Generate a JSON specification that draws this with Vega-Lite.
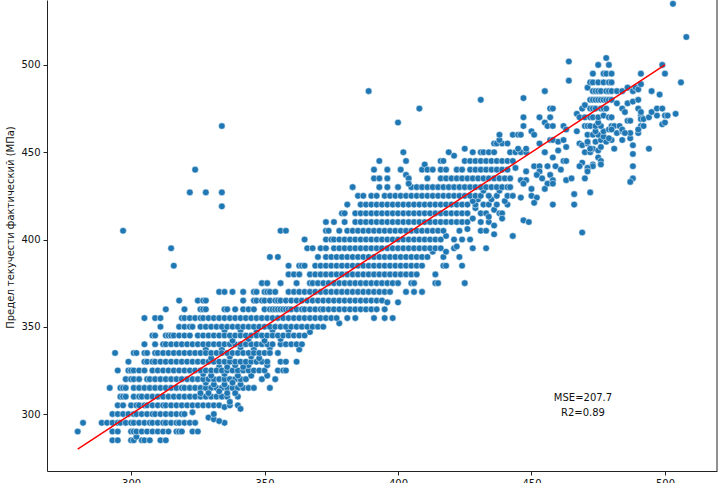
{"$schema":"https://vega.github.io/schema/vega-lite/v6.json","width":670,"height":471,"autosize":{"type":"none"},"padding":{"left":47,"top":0,"right":7,"bottom":12},"background":"white","config":{"font":"DejaVu Sans","view":{"stroke":null}},
"encoding":{"x":{"field":"x","type":"quantitative","scale":{"domain":[268.5,519.5],"nice":false,"zero":false},"axis":{"values":[300,350,400,450,500],"grid":false,"title":null,"domainColor":"#222","tickColor":"#222","labelColor":"#111","labelFontSize":10,"tickSize":4,"labelPadding":3,"labelFlush":false}},"y":{"field":"y","type":"quantitative","scale":{"domain":[267.4,537.2],"nice":false,"zero":false},"axis":{"values":[300,350,400,450,500],"grid":false,"title":"Предел текучести фактический (МПа)","titleFontSize":10,"titleFontWeight":"normal","titleColor":"#111","titleX":-32,"titleY":227,"domainColor":"#222","tickColor":"#222","labelColor":"#111","labelFontSize":10,"tickSize":4,"labelPadding":3}}},
"layer":[
{"data":{"values":[{"x":519.5}]},"mark":{"type":"rule","color":"#222","strokeWidth":1},"encoding":{"y":null}},
{"data":{"values":[
{"x":293,"y":285},{"x":295,"y":285},{"x":300,"y":285},{"x":301,"y":285},{"x":304,"y":285},{"x":305,"y":285},{"x":307,"y":285},{"x":311,"y":285},{"x":313,"y":285},{"x":302,"y":287},
{"x":280,"y":290},{"x":293,"y":290},{"x":295,"y":290},{"x":300,"y":290},{"x":301,"y":290},{"x":302,"y":290},{"x":304,"y":290},{"x":306,"y":290},{"x":308,"y":290},{"x":310,"y":290},{"x":312,"y":290},{"x":314,"y":290},{"x":317,"y":290},{"x":318,"y":290},{"x":319,"y":290},{"x":323,"y":290},{"x":325,"y":290},
{"x":282,"y":295},{"x":289,"y":295},{"x":291,"y":295},{"x":293,"y":295},{"x":295,"y":295},{"x":296,"y":295},{"x":298,"y":295},{"x":300,"y":295},{"x":301,"y":295},{"x":303,"y":295},{"x":305,"y":295},{"x":307,"y":295},{"x":308,"y":295},{"x":310,"y":295},{"x":312,"y":295},{"x":313,"y":295},{"x":315,"y":295},{"x":317,"y":295},{"x":318,"y":295},{"x":320,"y":295},{"x":322,"y":295},{"x":324,"y":295},{"x":335,"y":295},
{"x":293,"y":300},{"x":295,"y":300},{"x":297,"y":300},{"x":299,"y":300},{"x":301,"y":300},{"x":302,"y":300},{"x":304,"y":300},{"x":306,"y":300},{"x":308,"y":300},{"x":309,"y":300},{"x":311,"y":300},{"x":313,"y":300},{"x":315,"y":300},{"x":317,"y":300},{"x":319,"y":300},{"x":320,"y":300},{"x":323,"y":301},{"x":329,"y":298},{"x":331,"y":297},{"x":331,"y":300},{"x":333,"y":296},
{"x":295,"y":305},{"x":297,"y":305},{"x":300,"y":305},{"x":302,"y":305},{"x":303,"y":305},{"x":305,"y":305},{"x":306,"y":305},{"x":308,"y":305},{"x":310,"y":305},{"x":312,"y":305},{"x":313,"y":305},{"x":315,"y":305},{"x":317,"y":305},{"x":319,"y":305},{"x":321,"y":305},{"x":323,"y":305},{"x":325,"y":305},{"x":327,"y":305},{"x":329,"y":305},{"x":331,"y":305},{"x":333,"y":305},{"x":335,"y":304},{"x":337,"y":305},{"x":340,"y":305},{"x":341,"y":303},
{"x":296,"y":310},{"x":297,"y":310},{"x":298,"y":310},{"x":301,"y":310},{"x":303,"y":310},{"x":304,"y":310},{"x":306,"y":310},{"x":308,"y":310},{"x":310,"y":310},{"x":312,"y":310},{"x":314,"y":310},{"x":316,"y":310},{"x":318,"y":310},{"x":320,"y":310},{"x":322,"y":310},{"x":324,"y":310},{"x":326,"y":310},{"x":328,"y":310},{"x":330,"y":310},{"x":332,"y":310},{"x":334,"y":310},{"x":336,"y":310},{"x":337,"y":307},{"x":340,"y":310},
{"x":292,"y":315},{"x":296,"y":315},{"x":297,"y":315},{"x":298,"y":315},{"x":301,"y":315},{"x":303,"y":315},{"x":305,"y":315},{"x":307,"y":315},{"x":309,"y":315},{"x":311,"y":315},{"x":313,"y":315},{"x":315,"y":315},{"x":317,"y":315},{"x":319,"y":315},{"x":320,"y":315},{"x":322,"y":315},{"x":324,"y":315},{"x":326,"y":315},{"x":328,"y":315},{"x":330,"y":315},{"x":332,"y":315},{"x":334,"y":315},{"x":336,"y":315},{"x":338,"y":315},{"x":340,"y":315},{"x":342,"y":315},{"x":344,"y":315},{"x":346,"y":315},{"x":352,"y":315},{"x":329,"y":312},{"x":333,"y":313},{"x":326,"y":312},{"x":336,"y":312},{"x":339,"y":312},{"x":331,"y":317},{"x":335,"y":317},{"x":328,"y":318},{"x":341,"y":317},
{"x":298,"y":320},{"x":300,"y":320},{"x":301,"y":320},{"x":303,"y":320},{"x":306,"y":320},{"x":307,"y":320},{"x":309,"y":320},{"x":311,"y":320},{"x":313,"y":320},{"x":315,"y":320},{"x":317,"y":320},{"x":319,"y":320},{"x":321,"y":320},{"x":323,"y":320},{"x":325,"y":320},{"x":327,"y":320},{"x":329,"y":320},{"x":331,"y":320},{"x":333,"y":320},{"x":335,"y":320},{"x":337,"y":320},{"x":339,"y":320},{"x":341,"y":320},{"x":343,"y":320},{"x":349,"y":320},{"x":354,"y":320},{"x":351,"y":322},{"x":335,"y":323},{"x":338,"y":318},{"x":330,"y":322},{"x":340,"y":322},{"x":345,"y":322},{"x":327,"y":323},{"x":333,"y":327},
{"x":295,"y":325},{"x":299,"y":325},{"x":300,"y":325},{"x":301,"y":325},{"x":303,"y":325},{"x":305,"y":325},{"x":308,"y":325},{"x":310,"y":325},{"x":312,"y":325},{"x":314,"y":325},{"x":316,"y":325},{"x":318,"y":325},{"x":320,"y":325},{"x":322,"y":325},{"x":324,"y":325},{"x":326,"y":325},{"x":328,"y":325},{"x":330,"y":325},{"x":332,"y":325},{"x":334,"y":325},{"x":336,"y":325},{"x":338,"y":325},{"x":340,"y":325},{"x":342,"y":325},{"x":344,"y":325},{"x":346,"y":325},{"x":348,"y":325},{"x":350,"y":325},{"x":355,"y":325},{"x":357,"y":325},{"x":358,"y":325},{"x":344,"y":328},{"x":351,"y":328},{"x":339,"y":328},{"x":336,"y":327},{"x":342,"y":327},
{"x":299,"y":330},{"x":305,"y":330},{"x":306,"y":330},{"x":308,"y":330},{"x":309,"y":330},{"x":311,"y":330},{"x":313,"y":330},{"x":315,"y":330},{"x":317,"y":330},{"x":319,"y":330},{"x":321,"y":330},{"x":323,"y":330},{"x":325,"y":330},{"x":327,"y":330},{"x":329,"y":330},{"x":331,"y":330},{"x":333,"y":330},{"x":335,"y":330},{"x":337,"y":330},{"x":339,"y":330},{"x":341,"y":330},{"x":343,"y":330},{"x":345,"y":330},{"x":347,"y":330},{"x":349,"y":330},{"x":351,"y":330},{"x":356,"y":330},{"x":358,"y":330},{"x":362,"y":330},{"x":345,"y":333},{"x":330,"y":332},{"x":337,"y":333},{"x":348,"y":332},{"x":328,"y":337},{"x":334,"y":337},{"x":341,"y":338},{"x":346,"y":337},{"x":352,"y":338},
{"x":294,"y":335},{"x":301,"y":335},{"x":302,"y":335},{"x":305,"y":335},{"x":306,"y":335},{"x":309,"y":335},{"x":310,"y":335},{"x":312,"y":335},{"x":314,"y":335},{"x":316,"y":335},{"x":318,"y":335},{"x":320,"y":335},{"x":322,"y":335},{"x":324,"y":335},{"x":326,"y":335},{"x":328,"y":335},{"x":330,"y":335},{"x":332,"y":335},{"x":334,"y":335},{"x":336,"y":335},{"x":338,"y":335},{"x":340,"y":335},{"x":342,"y":335},{"x":344,"y":335},{"x":346,"y":335},{"x":348,"y":335},{"x":350,"y":335},{"x":352,"y":335},{"x":355,"y":335},{"x":363,"y":337},
{"x":305,"y":340},{"x":309,"y":340},{"x":312,"y":340},{"x":313,"y":340},{"x":315,"y":340},{"x":317,"y":340},{"x":319,"y":340},{"x":321,"y":340},{"x":323,"y":340},{"x":325,"y":340},{"x":327,"y":340},{"x":329,"y":340},{"x":331,"y":340},{"x":333,"y":340},{"x":335,"y":340},{"x":337,"y":340},{"x":339,"y":340},{"x":341,"y":340},{"x":343,"y":340},{"x":345,"y":340},{"x":347,"y":340},{"x":349,"y":340},{"x":351,"y":340},{"x":353,"y":340},{"x":356,"y":340},{"x":358,"y":340},{"x":360,"y":340},{"x":362,"y":340},{"x":364,"y":340},{"x":338,"y":342},{"x":344,"y":343},{"x":350,"y":342},{"x":356,"y":343},{"x":335,"y":348},{"x":341,"y":348},{"x":347,"y":347},{"x":353,"y":348},{"x":359,"y":348},
{"x":308,"y":345},{"x":309,"y":345},{"x":313,"y":345},{"x":314,"y":345},{"x":315,"y":345},{"x":316,"y":345},{"x":318,"y":345},{"x":320,"y":345},{"x":322,"y":345},{"x":325,"y":345},{"x":327,"y":345},{"x":329,"y":345},{"x":331,"y":345},{"x":333,"y":345},{"x":335,"y":345},{"x":337,"y":345},{"x":339,"y":345},{"x":341,"y":345},{"x":343,"y":345},{"x":345,"y":345},{"x":347,"y":345},{"x":349,"y":345},{"x":351,"y":345},{"x":353,"y":345},{"x":355,"y":345},{"x":357,"y":345},{"x":359,"y":345},{"x":361,"y":345},{"x":363,"y":345},{"x":365,"y":345},{"x":367,"y":347},
{"x":311,"y":350},{"x":318,"y":350},{"x":320,"y":350},{"x":322,"y":350},{"x":323,"y":350},{"x":326,"y":350},{"x":328,"y":350},{"x":330,"y":350},{"x":332,"y":350},{"x":334,"y":350},{"x":336,"y":350},{"x":338,"y":350},{"x":340,"y":350},{"x":342,"y":350},{"x":344,"y":350},{"x":346,"y":350},{"x":348,"y":350},{"x":350,"y":350},{"x":352,"y":350},{"x":354,"y":350},{"x":356,"y":350},{"x":358,"y":350},{"x":360,"y":350},{"x":362,"y":350},{"x":364,"y":350},{"x":366,"y":350},{"x":368,"y":350},{"x":370,"y":350},{"x":372,"y":350},{"x":378,"y":352},{"x":391,"y":355},{"x":395,"y":355},{"x":398,"y":355},
{"x":305,"y":355},{"x":309,"y":355},{"x":311,"y":355},{"x":319,"y":355},{"x":320,"y":355},{"x":322,"y":355},{"x":324,"y":355},{"x":326,"y":355},{"x":327,"y":355},{"x":329,"y":355},{"x":331,"y":355},{"x":333,"y":355},{"x":335,"y":355},{"x":337,"y":355},{"x":339,"y":355},{"x":341,"y":355},{"x":343,"y":355},{"x":345,"y":355},{"x":347,"y":355},{"x":349,"y":355},{"x":351,"y":355},{"x":353,"y":355},{"x":355,"y":355},{"x":357,"y":355},{"x":359,"y":355},{"x":361,"y":355},{"x":363,"y":355},{"x":365,"y":355},{"x":367,"y":355},{"x":369,"y":355},{"x":371,"y":355},{"x":373,"y":355},{"x":375,"y":355},{"x":377,"y":355},{"x":381,"y":355},{"x":384,"y":355},
{"x":313,"y":360},{"x":320,"y":360},{"x":326,"y":360},{"x":327,"y":360},{"x":328,"y":360},{"x":335,"y":360},{"x":336,"y":360},{"x":339,"y":360},{"x":342,"y":360},{"x":344,"y":360},{"x":346,"y":360},{"x":350,"y":360},{"x":352,"y":360},{"x":353,"y":360},{"x":354,"y":360},{"x":355,"y":360},{"x":356,"y":360},{"x":357,"y":360},{"x":358,"y":360},{"x":359,"y":360},{"x":360,"y":360},{"x":362,"y":360},{"x":364,"y":360},{"x":365,"y":360},{"x":367,"y":360},{"x":369,"y":360},{"x":371,"y":360},{"x":372,"y":360},{"x":374,"y":360},{"x":376,"y":360},{"x":378,"y":360},{"x":380,"y":360},{"x":382,"y":360},{"x":384,"y":360},{"x":386,"y":360},{"x":388,"y":360},{"x":390,"y":360},{"x":392,"y":360},{"x":395,"y":360},
{"x":318,"y":365},{"x":325,"y":365},{"x":327,"y":365},{"x":328,"y":365},{"x":342,"y":365},{"x":346,"y":365},{"x":347,"y":365},{"x":349,"y":365},{"x":350,"y":365},{"x":352,"y":365},{"x":354,"y":365},{"x":355,"y":365},{"x":356,"y":365},{"x":358,"y":365},{"x":360,"y":365},{"x":362,"y":365},{"x":364,"y":365},{"x":366,"y":365},{"x":368,"y":365},{"x":370,"y":365},{"x":372,"y":365},{"x":374,"y":365},{"x":376,"y":365},{"x":378,"y":365},{"x":380,"y":365},{"x":382,"y":365},{"x":384,"y":365},{"x":386,"y":365},{"x":388,"y":365},{"x":390,"y":365},{"x":392,"y":365},{"x":394,"y":365},{"x":396,"y":364},{"x":400,"y":364},
{"x":333,"y":370},{"x":335,"y":370},{"x":338,"y":370},{"x":342,"y":370},{"x":346,"y":370},{"x":347,"y":370},{"x":350,"y":370},{"x":351,"y":370},{"x":352,"y":370},{"x":354,"y":370},{"x":359,"y":370},{"x":361,"y":370},{"x":363,"y":370},{"x":365,"y":370},{"x":367,"y":370},{"x":369,"y":370},{"x":371,"y":370},{"x":373,"y":370},{"x":375,"y":370},{"x":377,"y":370},{"x":379,"y":370},{"x":381,"y":370},{"x":383,"y":370},{"x":385,"y":370},{"x":387,"y":370},{"x":389,"y":370},{"x":391,"y":370},{"x":393,"y":370},{"x":395,"y":370},{"x":397,"y":370},{"x":403,"y":370},{"x":406,"y":370},{"x":409,"y":370},
{"x":349,"y":375},{"x":351,"y":375},{"x":356,"y":375},{"x":362,"y":375},{"x":367,"y":375},{"x":368,"y":375},{"x":370,"y":375},{"x":372,"y":375},{"x":374,"y":375},{"x":376,"y":375},{"x":378,"y":375},{"x":380,"y":375},{"x":382,"y":375},{"x":384,"y":375},{"x":386,"y":375},{"x":388,"y":375},{"x":390,"y":375},{"x":392,"y":375},{"x":394,"y":375},{"x":396,"y":375},{"x":398,"y":375},{"x":400,"y":375},{"x":405,"y":375},{"x":406,"y":375},{"x":414,"y":375},{"x":415,"y":375},{"x":425,"y":375},
{"x":359,"y":380},{"x":361,"y":380},{"x":363,"y":380},{"x":367,"y":380},{"x":369,"y":380},{"x":371,"y":380},{"x":373,"y":380},{"x":375,"y":380},{"x":377,"y":380},{"x":379,"y":380},{"x":381,"y":380},{"x":383,"y":380},{"x":385,"y":380},{"x":387,"y":380},{"x":389,"y":380},{"x":391,"y":380},{"x":393,"y":380},{"x":395,"y":380},{"x":397,"y":380},{"x":399,"y":380},{"x":401,"y":380},{"x":403,"y":380},{"x":405,"y":380},{"x":407,"y":380},{"x":414,"y":380},
{"x":359,"y":385},{"x":363,"y":385},{"x":364,"y":385},{"x":365,"y":385},{"x":369,"y":385},{"x":371,"y":385},{"x":373,"y":385},{"x":375,"y":385},{"x":377,"y":385},{"x":379,"y":385},{"x":381,"y":385},{"x":383,"y":385},{"x":385,"y":385},{"x":387,"y":385},{"x":389,"y":385},{"x":391,"y":385},{"x":393,"y":385},{"x":395,"y":385},{"x":397,"y":385},{"x":399,"y":385},{"x":401,"y":385},{"x":403,"y":385},{"x":405,"y":385},{"x":407,"y":385},{"x":409,"y":385},{"x":417,"y":385},{"x":418,"y":385},{"x":424,"y":385},
{"x":352,"y":390},{"x":355,"y":390},{"x":370,"y":390},{"x":373,"y":390},{"x":375,"y":390},{"x":377,"y":390},{"x":379,"y":390},{"x":381,"y":390},{"x":383,"y":390},{"x":385,"y":390},{"x":387,"y":390},{"x":389,"y":390},{"x":391,"y":390},{"x":393,"y":390},{"x":395,"y":390},{"x":397,"y":390},{"x":399,"y":390},{"x":401,"y":390},{"x":403,"y":390},{"x":405,"y":390},{"x":407,"y":390},{"x":409,"y":390},{"x":411,"y":390},{"x":417,"y":390},{"x":423,"y":390},{"x":413,"y":393},
{"x":366,"y":395},{"x":368,"y":395},{"x":371,"y":395},{"x":373,"y":395},{"x":376,"y":395},{"x":378,"y":395},{"x":380,"y":395},{"x":382,"y":395},{"x":384,"y":395},{"x":386,"y":395},{"x":388,"y":395},{"x":390,"y":395},{"x":392,"y":395},{"x":394,"y":395},{"x":396,"y":395},{"x":398,"y":395},{"x":400,"y":395},{"x":402,"y":395},{"x":404,"y":395},{"x":406,"y":395},{"x":408,"y":395},{"x":410,"y":395},{"x":412,"y":395},{"x":414,"y":395},{"x":416,"y":395},{"x":418,"y":393},{"x":421,"y":395},{"x":422,"y":396},{"x":428,"y":395},{"x":433,"y":395},
{"x":365,"y":400},{"x":373,"y":400},{"x":375,"y":400},{"x":376,"y":400},{"x":378,"y":400},{"x":380,"y":400},{"x":382,"y":400},{"x":384,"y":400},{"x":386,"y":400},{"x":388,"y":400},{"x":390,"y":400},{"x":392,"y":400},{"x":394,"y":400},{"x":396,"y":400},{"x":398,"y":400},{"x":400,"y":400},{"x":402,"y":400},{"x":404,"y":400},{"x":406,"y":400},{"x":408,"y":400},{"x":410,"y":400},{"x":412,"y":400},{"x":414,"y":400},{"x":416,"y":400},{"x":421,"y":400},{"x":424,"y":400},{"x":427,"y":400},{"x":418,"y":402},
{"x":356,"y":405},{"x":373,"y":405},{"x":374,"y":405},{"x":378,"y":405},{"x":381,"y":405},{"x":383,"y":405},{"x":385,"y":405},{"x":387,"y":405},{"x":389,"y":405},{"x":391,"y":405},{"x":393,"y":405},{"x":395,"y":405},{"x":397,"y":405},{"x":399,"y":405},{"x":401,"y":405},{"x":403,"y":405},{"x":405,"y":405},{"x":407,"y":405},{"x":409,"y":405},{"x":411,"y":405},{"x":413,"y":405},{"x":415,"y":405},{"x":417,"y":405},{"x":423,"y":405},{"x":426,"y":406},{"x":431,"y":405},{"x":433,"y":405},{"x":436,"y":403},{"x":443,"y":402},
{"x":373,"y":410},{"x":376,"y":410},{"x":380,"y":410},{"x":384,"y":410},{"x":386,"y":410},{"x":388,"y":410},{"x":390,"y":410},{"x":392,"y":410},{"x":394,"y":410},{"x":396,"y":410},{"x":398,"y":410},{"x":400,"y":410},{"x":402,"y":410},{"x":404,"y":410},{"x":406,"y":410},{"x":408,"y":410},{"x":410,"y":410},{"x":412,"y":410},{"x":414,"y":410},{"x":416,"y":410},{"x":418,"y":410},{"x":420,"y":410},{"x":422,"y":410},{"x":424,"y":410},{"x":426,"y":410},{"x":431,"y":410},{"x":434,"y":410},{"x":436,"y":408},{"x":447,"y":411},{"x":449,"y":410},
{"x":379,"y":415},{"x":380,"y":415},{"x":384,"y":415},{"x":386,"y":415},{"x":388,"y":415},{"x":390,"y":415},{"x":392,"y":415},{"x":394,"y":415},{"x":396,"y":415},{"x":398,"y":415},{"x":400,"y":415},{"x":402,"y":415},{"x":404,"y":415},{"x":406,"y":415},{"x":408,"y":415},{"x":410,"y":415},{"x":412,"y":415},{"x":414,"y":415},{"x":416,"y":415},{"x":418,"y":415},{"x":420,"y":415},{"x":422,"y":415},{"x":424,"y":415},{"x":426,"y":415},{"x":431,"y":415},{"x":433,"y":415},{"x":436,"y":417},{"x":438,"y":415},{"x":439,"y":415},{"x":439,"y":412},{"x":428,"y":412},{"x":429,"y":418},{"x":434,"y":413},
{"x":381,"y":420},{"x":386,"y":420},{"x":388,"y":420},{"x":390,"y":420},{"x":392,"y":420},{"x":394,"y":420},{"x":396,"y":420},{"x":398,"y":420},{"x":400,"y":420},{"x":402,"y":420},{"x":404,"y":420},{"x":406,"y":420},{"x":408,"y":420},{"x":410,"y":420},{"x":412,"y":420},{"x":414,"y":420},{"x":416,"y":420},{"x":418,"y":420},{"x":420,"y":420},{"x":422,"y":420},{"x":424,"y":420},{"x":426,"y":420},{"x":429,"y":420},{"x":432,"y":420},{"x":434,"y":420},{"x":437,"y":420},{"x":441,"y":420},{"x":440,"y":422},{"x":430,"y":423},{"x":435,"y":423},{"x":428,"y":422},
{"x":385,"y":425},{"x":387,"y":425},{"x":390,"y":425},{"x":392,"y":425},{"x":395,"y":425},{"x":397,"y":425},{"x":399,"y":425},{"x":401,"y":425},{"x":403,"y":425},{"x":405,"y":425},{"x":407,"y":425},{"x":409,"y":425},{"x":411,"y":425},{"x":413,"y":425},{"x":415,"y":425},{"x":417,"y":425},{"x":419,"y":425},{"x":421,"y":425},{"x":423,"y":425},{"x":425,"y":425},{"x":427,"y":425},{"x":429,"y":425},{"x":431,"y":425},{"x":434,"y":425},{"x":437,"y":425},{"x":441,"y":425},{"x":443,"y":425},{"x":432,"y":428},{"x":438,"y":428},
{"x":383,"y":430},{"x":393,"y":430},{"x":396,"y":430},{"x":400,"y":430},{"x":405,"y":430},{"x":407,"y":430},{"x":409,"y":430},{"x":411,"y":430},{"x":413,"y":430},{"x":415,"y":430},{"x":417,"y":430},{"x":419,"y":430},{"x":421,"y":430},{"x":423,"y":430},{"x":425,"y":430},{"x":427,"y":430},{"x":429,"y":430},{"x":431,"y":430},{"x":433,"y":430},{"x":435,"y":430},{"x":437,"y":430},{"x":439,"y":430},{"x":441,"y":430},{"x":442,"y":430},
{"x":391,"y":435},{"x":393,"y":435},{"x":396,"y":435},{"x":403,"y":437},{"x":404,"y":435},{"x":411,"y":435},{"x":416,"y":435},{"x":418,"y":435},{"x":420,"y":435},{"x":422,"y":435},{"x":424,"y":435},{"x":426,"y":435},{"x":428,"y":435},{"x":430,"y":435},{"x":432,"y":435},{"x":434,"y":435},{"x":436,"y":435},{"x":438,"y":435},{"x":440,"y":435},{"x":442,"y":435},{"x":404,"y":432},
{"x":391,"y":440},{"x":396,"y":440},{"x":401,"y":440},{"x":409,"y":440},{"x":410,"y":443},{"x":411,"y":440},{"x":413,"y":440},{"x":416,"y":440},{"x":418,"y":440},{"x":422,"y":440},{"x":424,"y":440},{"x":427,"y":440},{"x":429,"y":440},{"x":431,"y":440},{"x":433,"y":440},{"x":435,"y":440},{"x":437,"y":440},{"x":439,"y":440},{"x":441,"y":440},
{"x":393,"y":445},{"x":403,"y":445},{"x":416,"y":445},{"x":417,"y":445},{"x":421,"y":448},{"x":425,"y":445},{"x":427,"y":445},{"x":429,"y":445},{"x":431,"y":445},{"x":433,"y":445},{"x":435,"y":445},{"x":437,"y":445},{"x":439,"y":445},{"x":441,"y":445},{"x":443,"y":445},
{"x":402,"y":450},{"x":419,"y":450},{"x":425,"y":452},{"x":428,"y":450},{"x":431,"y":450},{"x":432,"y":450},{"x":434,"y":450},{"x":436,"y":450},{"x":442,"y":450},{"x":444,"y":450},{"x":446,"y":450},{"x":448,"y":450},{"x":455,"y":450},
{"x":436,"y":455},{"x":437,"y":455},{"x":439,"y":455},{"x":441,"y":455},{"x":445,"y":452},{"x":448,"y":452},{"x":453,"y":455},{"x":438,"y":457},{"x":438,"y":460},{"x":443,"y":460},{"x":445,"y":460},{"x":446,"y":460},{"x":450,"y":462},{"x":451,"y":460},{"x":447,"y":465},{"x":447,"y":470},{"x":453,"y":470},{"x":457,"y":470},{"x":455,"y":467},{"x":456,"y":465},{"x":458,"y":465},{"x":462,"y":465},{"x":463,"y":463},{"x":457,"y":475},{"x":458,"y":475},{"x":467,"y":462},{"x":467,"y":472},{"x":457,"y":457},{"x":458,"y":457},{"x":460,"y":456},{"x":462,"y":457},{"x":463,"y":453},{"x":460,"y":451},
{"x":455,"y":450},{"x":458,"y":447},{"x":462,"y":445},{"x":463,"y":445},{"x":459,"y":442},{"x":456,"y":442},{"x":451,"y":442},{"x":453,"y":442},{"x":444,"y":441},{"x":461,"y":440},{"x":448,"y":439},{"x":453,"y":439},{"x":452,"y":437},{"x":457,"y":437},{"x":454,"y":435},{"x":458,"y":434},{"x":456,"y":432},{"x":458,"y":432},{"x":455,"y":429},{"x":463,"y":434},{"x":465,"y":435},{"x":446,"y":434},{"x":448,"y":434},{"x":447,"y":432},{"x":450,"y":429},{"x":450,"y":425},{"x":446,"y":424},{"x":452,"y":424},{"x":451,"y":421},{"x":458,"y":420},{"x":466,"y":426},{"x":466,"y":420},{"x":472,"y":427},{"x":470,"y":435},{"x":443,"y":402},{"x":469,"y":404},
{"x":468,"y":455},{"x":469,"y":454},{"x":471,"y":455},{"x":471,"y":456},{"x":470,"y":450},{"x":472,"y":450},{"x":473,"y":452},{"x":475,"y":451},{"x":476,"y":453},{"x":472,"y":452},{"x":474,"y":456},{"x":476,"y":457},{"x":478,"y":456},{"x":480,"y":457},{"x":481,"y":452},{"x":484,"y":457},{"x":488,"y":454},{"x":487,"y":458},{"x":487,"y":461},{"x":490,"y":461},{"x":494,"y":452},{"x":488,"y":449},{"x":488,"y":442},{"x":488,"y":435},{"x":487,"y":433},{"x":475,"y":447},{"x":476,"y":445},{"x":476,"y":443},{"x":473,"y":443},{"x":473,"y":442},{"x":471,"y":441},{"x":471,"y":439},{"x":469,"y":444},{"x":468,"y":442},
{"x":471,"y":460},{"x":473,"y":460},{"x":475,"y":460},{"x":477,"y":459},{"x":479,"y":458},{"x":482,"y":461},{"x":484,"y":462},{"x":474,"y":462},{"x":477,"y":462},{"x":479,"y":463},
{"x":470,"y":465},{"x":471,"y":465},{"x":472,"y":465},{"x":474,"y":465},{"x":476,"y":465},{"x":480,"y":465},{"x":481,"y":465},{"x":483,"y":465},{"x":491,"y":465},{"x":492,"y":465},{"x":475,"y":467},{"x":480,"y":463},{"x":484,"y":463},{"x":485,"y":461},{"x":490,"y":463},{"x":499,"y":466},{"x":500,"y":467},
{"x":468,"y":470},{"x":470,"y":470},{"x":472,"y":470},{"x":473,"y":470},{"x":475,"y":470},{"x":477,"y":471},{"x":479,"y":470},{"x":480,"y":470},{"x":486,"y":468},{"x":487,"y":468},{"x":491,"y":471},{"x":491,"y":469},{"x":492,"y":469},{"x":494,"y":470},{"x":497,"y":471},{"x":500,"y":471},{"x":501,"y":471},{"x":504,"y":472},
{"x":469,"y":475},{"x":470,"y":477},{"x":472,"y":475},{"x":473,"y":475},{"x":474,"y":475},{"x":476,"y":475},{"x":477,"y":475},{"x":478,"y":475},{"x":484,"y":475},{"x":485,"y":473},{"x":490,"y":475},{"x":491,"y":473},{"x":495,"y":473},{"x":497,"y":475},{"x":499,"y":475},
{"x":472,"y":480},{"x":473,"y":480},{"x":474,"y":480},{"x":475,"y":480},{"x":476,"y":480},{"x":477,"y":480},{"x":478,"y":480},{"x":479,"y":480},{"x":480,"y":480},{"x":482,"y":478},{"x":486,"y":478},{"x":488,"y":479},{"x":490,"y":480},{"x":498,"y":483},
{"x":471,"y":487},{"x":473,"y":485},{"x":474,"y":485},{"x":475,"y":485},{"x":476,"y":485},{"x":478,"y":485},{"x":479,"y":485},{"x":480,"y":485},{"x":482,"y":485},{"x":484,"y":485},{"x":486,"y":487},{"x":488,"y":485},{"x":489,"y":487},{"x":490,"y":486},{"x":495,"y":485},
{"x":472,"y":490},{"x":473,"y":490},{"x":475,"y":490},{"x":477,"y":490},{"x":479,"y":490},{"x":480,"y":490},{"x":491,"y":489},{"x":506,"y":490},{"x":473,"y":495},{"x":477,"y":495},{"x":478,"y":495},{"x":480,"y":495},{"x":491,"y":495},{"x":475,"y":500},{"x":479,"y":500},{"x":478,"y":504},{"x":499,"y":500},{"x":500,"y":495},{"x":503,"y":535},{"x":508,"y":516},{"x":464,"y":502},{"x":464,"y":491},{"x":455,"y":485},{"x":447,"y":481},{"x":431,"y":480},
{"x":297,"y":405},{"x":315,"y":395},{"x":316,"y":385},{"x":322,"y":427},{"x":324,"y":440},{"x":328,"y":427},{"x":334,"y":427},{"x":334,"y":419},{"x":334,"y":465},{"x":389,"y":485},{"x":400,"y":467},{"x":408,"y":475},{"x":358,"y":405}
]},"mark":{"type":"point","filled":true,"fill":"#1f77b4","stroke":"white","strokeWidth":0.5,"opacity":1,"size":44}},
{"data":{"values":[{"x":280,"y":280},{"x":500,"y":500}]},"mark":{"type":"line","color":"red","strokeWidth":1.5}},
{"data":{"values":[{"x":469.3,"y":309.4,"label":"MSE=207.7"},{"x":469.3,"y":300.8,"label":"R2=0.89"}]},"mark":{"type":"text","fontSize":10,"color":"#111","align":"center","baseline":"middle"},"encoding":{"text":{"field":"label","type":"nominal"}}}
]}
